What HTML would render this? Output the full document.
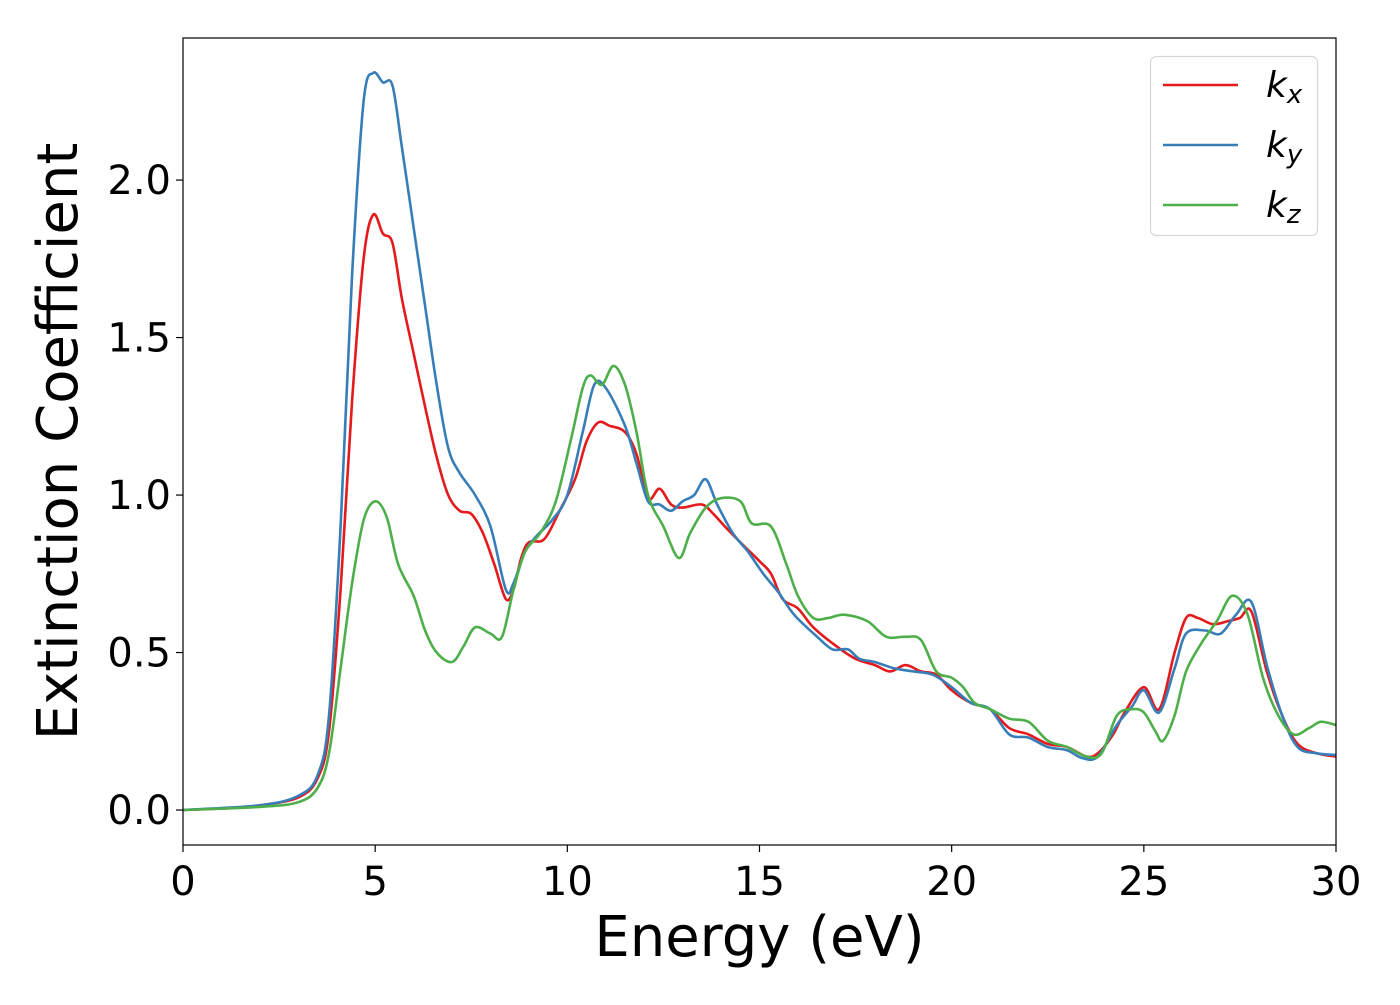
<!DOCTYPE html>
<html><head><meta charset="utf-8"><style>
body{margin:0;background:#fff;}
svg text{font-family:"DejaVu Sans","Liberation Sans",sans-serif;fill:#000;}
</style></head><body>
<svg id="chart" width="1400" height="1000" xmlns="http://www.w3.org/2000/svg">
<g id="plot"></g>
</svg>
<script>
const xTicks=[0,5,10,15,20,25,30];
const yTicks=[0.0,0.5,1.0,1.5,2.0];
const yTickLabels=["0.0","0.5","1.0","1.5","2.0"];
const kxE=[0,1,2,3,3.5,3.8,4.1,4.4,4.7,4.95,5.2,5.45,5.7,6,6.3,6.6,6.9,7.2,7.5,7.8,8.1,8.4,8.6,8.8,9,9.4,9.8,10.2,10.5,10.8,11.1,11.5,11.8,12.1,12.4,12.7,13,13.5,13.8,14.1,14.5,15,15.3,15.6,16,16.4,17,17.5,18,18.4,18.8,19.2,19.6,20,20.5,21,21.5,22,22.5,23,23.5,23.8,24.2,24.5,25,25.4,25.8,26.1,26.4,26.8,27.2,27.5,27.8,28.2,28.6,29,29.5,30];
const kxV=[0,0.005,0.015,0.04,0.1,0.25,0.7,1.3,1.75,1.89,1.83,1.8,1.62,1.45,1.28,1.12,1.0,0.95,0.94,0.88,0.78,0.67,0.7,0.8,0.85,0.86,0.95,1.05,1.17,1.23,1.22,1.2,1.13,0.99,1.02,0.97,0.96,0.97,0.94,0.9,0.85,0.79,0.75,0.67,0.64,0.58,0.52,0.48,0.46,0.44,0.46,0.44,0.43,0.38,0.34,0.32,0.26,0.24,0.21,0.2,0.17,0.18,0.24,0.31,0.39,0.32,0.5,0.61,0.61,0.59,0.6,0.61,0.63,0.44,0.3,0.21,0.18,0.17];
const kyE=[0,2,3,3.5,3.8,4.1,4.4,4.7,4.95,5.2,5.45,5.7,6,6.3,6.6,6.9,7.2,7.6,8,8.4,8.6,8.9,9.2,9.6,10,10.4,10.7,11,11.5,11.8,12.1,12.4,12.7,13,13.3,13.6,13.9,14.3,14.7,15.1,15.5,15.9,16.5,16.9,17.3,17.6,18,18.5,19,19.5,20,20.5,21,21.5,22,22.5,23,23.4,23.8,24.3,24.7,25,25.4,25.8,26.1,26.6,27,27.4,27.8,28.2,28.6,29,29.5,30];
const kyV=[0,0.015,0.045,0.11,0.3,0.9,1.7,2.25,2.34,2.31,2.3,2.1,1.85,1.6,1.35,1.15,1.07,1.0,0.9,0.7,0.72,0.82,0.87,0.92,1.0,1.2,1.35,1.34,1.22,1.1,0.98,0.97,0.95,0.98,1.0,1.05,0.97,0.88,0.82,0.75,0.69,0.62,0.55,0.51,0.51,0.48,0.47,0.45,0.44,0.43,0.39,0.34,0.32,0.24,0.23,0.2,0.19,0.165,0.17,0.27,0.33,0.38,0.31,0.45,0.56,0.57,0.56,0.62,0.66,0.46,0.3,0.2,0.18,0.175];
const kzE=[0,2,3,3.5,3.8,4.1,4.4,4.7,5,5.3,5.6,6,6.3,6.6,7,7.3,7.6,8,8.3,8.6,8.9,9.3,9.7,10.1,10.4,10.6,10.9,11.2,11.5,11.8,12.1,12.5,12.9,13.2,13.6,14,14.5,14.8,15.3,15.7,16,16.4,16.8,17.2,17.8,18.3,18.8,19.2,19.6,20,20.3,20.6,21,21.5,22,22.5,23,23.5,23.9,24.3,24.7,25,25.3,25.5,25.8,26.1,26.5,26.9,27.3,27.7,28.1,28.5,28.9,29.3,29.6,30];
const kzV=[0,0.01,0.025,0.07,0.18,0.45,0.72,0.92,0.98,0.93,0.78,0.68,0.57,0.5,0.47,0.52,0.58,0.56,0.55,0.7,0.82,0.88,0.98,1.18,1.34,1.38,1.35,1.41,1.35,1.2,1.0,0.9,0.8,0.88,0.96,0.99,0.98,0.91,0.9,0.78,0.68,0.61,0.61,0.62,0.6,0.55,0.55,0.54,0.44,0.42,0.39,0.34,0.32,0.29,0.28,0.22,0.2,0.17,0.18,0.3,0.32,0.31,0.25,0.22,0.3,0.44,0.53,0.6,0.68,0.62,0.42,0.3,0.24,0.26,0.28,0.27];

const L=183,R=1336,T=38,B=845;
const xMin=0,xMax=30,yMin=-0.111,yMax=2.451;
const sx=v=>L+(v-xMin)/(xMax-xMin)*(R-L);
const sy=v=>B-(v-yMin)/(yMax-yMin)*(B-T);
const NS="http://www.w3.org/2000/svg";
const svg=document.getElementById('chart');
function mk(tag,attrs,parent){const e=document.createElementNS(NS,tag);for(const k in attrs)e.setAttribute(k,attrs[k]);(parent||svg).appendChild(e);return e;}
function smooth(xs,ys){
  const p=xs.map((x,i)=>[sx(x),sy(ys[i])]);
  let d='M'+p[0][0].toFixed(1)+','+p[0][1].toFixed(1);
  for(let i=0;i<p.length-1;i++){
    const p0=p[i-1]||p[i],p1=p[i],p2=p[i+1],p3=p[i+2]||p2;
    const c1=[p1[0]+(p2[0]-p0[0])/6,p1[1]+(p2[1]-p0[1])/6];
    const c2=[p2[0]-(p3[0]-p1[0])/6,p2[1]-(p3[1]-p1[1])/6];
    d+=`C${c1[0].toFixed(1)},${c1[1].toFixed(1)} ${c2[0].toFixed(1)},${c2[1].toFixed(1)} ${p2[0].toFixed(1)},${p2[1].toFixed(1)}`;
  }
  return d;
}
const defs=mk('defs',{});
const cp=mk('clipPath',{id:'clip'},defs);mk('rect',{x:L,y:T,width:R-L,height:B-T},cp);
const series=[[kxE,kxV,'#e41a1c','kx-line'],[kyE,kyV,'#377eb8','ky-line'],[kzE,kzV,'#4daf4a','kz-line']];
series.forEach(s=>{
  const p=mk('path',{d:smooth(s[0],s[1]),fill:'none',stroke:s[2],'stroke-width':2.6,'clip-path':'url(#clip)'});
  
  
});
const frame=mk('rect',{x:L,y:T,width:R-L,height:B-T,fill:'none',stroke:'#000','stroke-width':1.2});


xTicks.forEach(v=>{
  const t=mk('line',{x1:sx(v),x2:sx(v),y1:B,y2:B+7,stroke:'#000','stroke-width':1.2});
  
  
  const lb=mk('text',{x:sx(v),y:B+50,'font-size':40,'text-anchor':'middle'});lb.textContent=v;
  
  
});
yTicks.forEach((v,i)=>{
  const t=mk('line',{x1:L-7,x2:L,y1:sy(v),y2:sy(v),stroke:'#000','stroke-width':1.2});
  
  
  const lb=mk('text',{x:L-12,y:sy(v)+14,'font-size':40,'text-anchor':'end'});lb.textContent=yTickLabels[i];
  
  
});
const xl=mk('text',{x:(L+R)/2,y:956,'font-size':56,'text-anchor':'middle'});xl.textContent='Energy (eV)';


const yl=mk('text',{x:0,y:0,'font-size':56,'text-anchor':'middle',transform:`translate(77,${(T+B)/2}) rotate(-90)`});yl.textContent='Extinction Coefficient';


const lg=mk('g',{});


mk('rect',{x:1150.5,y:56.5,width:167,height:179,rx:6,fill:'#fff',stroke:'#d6d6d6','stroke-width':1.2},lg);
const labs=[['k','x'],['k','y'],['k','z']];
series.forEach((s,i)=>{
  const y=85+i*60;
  const ln=mk('line',{x1:1163,x2:1238,y1:y,y2:y,stroke:s[2],'stroke-width':2.6},lg);
  
  
  const tx=mk('text',{x:1266,y:y+12,'font-size':36,'font-style':'italic'},lg);
  
  
  tx.innerHTML=`${labs[i][0]}<tspan font-size="26" dy="6">${labs[i][1]}</tspan>`;
});
</script>
</body></html>
